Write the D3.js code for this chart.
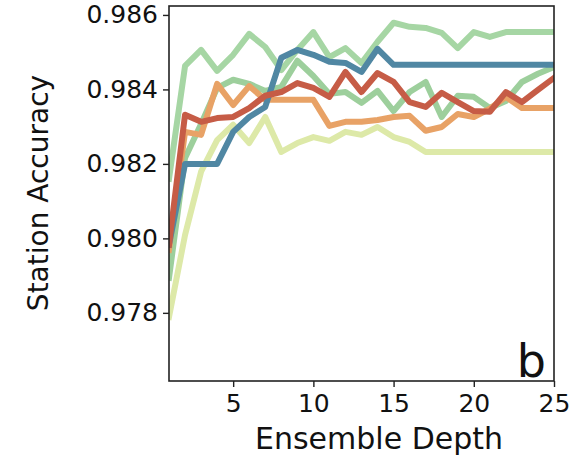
<!DOCTYPE html>
<html>
<head>
<meta charset="utf-8">
<script src="https://cdn.jsdelivr.net/npm/d3@7/dist/d3.min.js"></script>
<style>
  html, body { margin: 0; padding: 0; background: #fff; }
  svg { display: block; font-family: "DejaVu Sans", sans-serif; }
</style>
</head>
<body>
<svg id="chart" width="569" height="460"></svg>
<script>
const depths = d3.range(1, 26);

const yellowSeries = [0.97789, 0.98009, 0.98179, 0.98264, 0.98305, 0.98256, 0.98326, 0.98232, 0.98256, 0.98272, 0.98262, 0.98286, 0.98278, 0.98299, 0.98272, 0.98259, 0.98232, 0.98232, 0.98232, 0.98232, 0.98232, 0.98232, 0.98232, 0.98232, 0.98232];
const midGreenSeries = [0.97894, 0.98216, 0.98307, 0.98404, 0.98426, 0.98415, 0.98396, 0.98407, 0.98477, 0.98436, 0.98388, 0.98393, 0.98364, 0.98396, 0.98342, 0.98393, 0.98420, 0.98326, 0.98383, 0.98380, 0.98350, 0.98369, 0.98420, 0.98442, 0.98460];
const topGreenSeries = [0.98160, 0.98463, 0.98506, 0.98450, 0.98493, 0.98549, 0.98514, 0.98452, 0.98506, 0.98554, 0.98487, 0.98511, 0.98471, 0.98528, 0.98579, 0.98568, 0.98565, 0.98552, 0.98511, 0.98554, 0.98541, 0.98554, 0.98554, 0.98554, 0.98554];
const orangeSeries = [0.97969, 0.98286, 0.98278, 0.98415, 0.98358, 0.98409, 0.98372, 0.98372, 0.98372, 0.98372, 0.98302, 0.98313, 0.98313, 0.98318, 0.98326, 0.98329, 0.98289, 0.98299, 0.98334, 0.98326, 0.98348, 0.98380, 0.98350, 0.98350, 0.98350];
const blueSeries = [0.97983, 0.98200, 0.98200, 0.98200, 0.98286, 0.98326, 0.98353, 0.98485, 0.98506, 0.98493, 0.98474, 0.98471, 0.98447, 0.98509, 0.98466, 0.98466, 0.98466, 0.98466, 0.98466, 0.98466, 0.98466, 0.98466, 0.98466, 0.98466, 0.98466];
const redSeries = [0.97983, 0.98332, 0.98313, 0.98323, 0.98326, 0.98350, 0.98383, 0.98393, 0.98417, 0.98404, 0.98380, 0.98447, 0.98393, 0.98444, 0.98420, 0.98366, 0.98353, 0.98391, 0.98366, 0.98342, 0.98340, 0.98393, 0.98366, 0.98399, 0.98431];

const xTicks = [5, 10, 15, 20, 25];
const yTicks = [0.978, 0.980, 0.982, 0.984, 0.986];
const xLimits = [1, 25];
const yLimits = [0.97617, 0.98624];

const seriesList = [
  { name: "yellow", values: yellowSeries, color: "#dde9a8" },
  { name: "midGreen", values: midGreenSeries, color: "#9dcf9c" },
  { name: "topGreen", values: topGreenSeries, color: "#a6d6a4" },
  { name: "orange", values: orangeSeries, color: "#e8a266" },
  { name: "blue", values: blueSeries, color: "#5087a3" },
  { name: "red", values: redSeries, color: "#c65c46" }
];

const L = 169, R = 554, T = 6, B = 381;
const svg = d3.select("#chart");
const x = d3.scaleLinear().domain(xLimits).range([L, R]);
const y = d3.scaleLinear().domain(yLimits).range([B, T]);

svg.append("defs").append("clipPath").attr("id", "clip")
  .append("rect").attr("x", L).attr("y", T).attr("width", R - L).attr("height", B - T);

const line = d3.line().x((d, i) => x(depths[i])).y(d => y(d));

const g = svg.append("g").attr("clip-path", "url(#clip)");
seriesList.forEach(s => {
  g.append("path")
    .datum(s.values)
    .attr("d", line)
    .attr("fill", "none")
    .attr("stroke", s.color)
    .attr("stroke-width", 6)
    .attr("stroke-linejoin", "round")
    .attr("stroke-linecap", "square");
});

// frame
svg.append("rect").attr("x", L).attr("y", T).attr("width", R - L).attr("height", B - T)
  .attr("fill", "none").attr("stroke", "#222").attr("stroke-width", 1.6);

// axes
const xAxis = d3.axisBottom(x).tickValues(xTicks).tickSize(6).tickPadding(7).tickFormat(d3.format("d"));
const xg = svg.append("g").attr("transform", `translate(0,${B})`).call(xAxis);
const yAxis = d3.axisLeft(y).tickValues(yTicks).tickSize(6).tickPadding(5).tickFormat(d3.format(".3f"));
const yg = svg.append("g").attr("transform", `translate(${L},0)`).call(yAxis);
[xg, yg].forEach(a => {
  a.select(".domain").remove();
  a.selectAll(".tick line").attr("stroke", "#222").attr("stroke-width", 1.4);
  a.selectAll(".tick text").attr("fill", "#111").style("font-size", "25px").style("font-family", "DejaVu Sans, sans-serif");
});

svg.append("text").attr("x", 379).attr("y", 449)
  .attr("text-anchor", "middle").attr("fill", "#111").style("font-size", "30px")
  .text("Ensemble Depth");

svg.append("text").attr("transform", `translate(48,193) rotate(-90)`)
  .attr("text-anchor", "middle").attr("fill", "#111").style("font-size", "28px")
  .text("Station Accuracy");

svg.append("text").attr("x", 546).attr("y", 377)
  .attr("text-anchor", "end").attr("fill", "#111").style("font-size", "46px")
  .text("b");
</script>
</body>
</html>
